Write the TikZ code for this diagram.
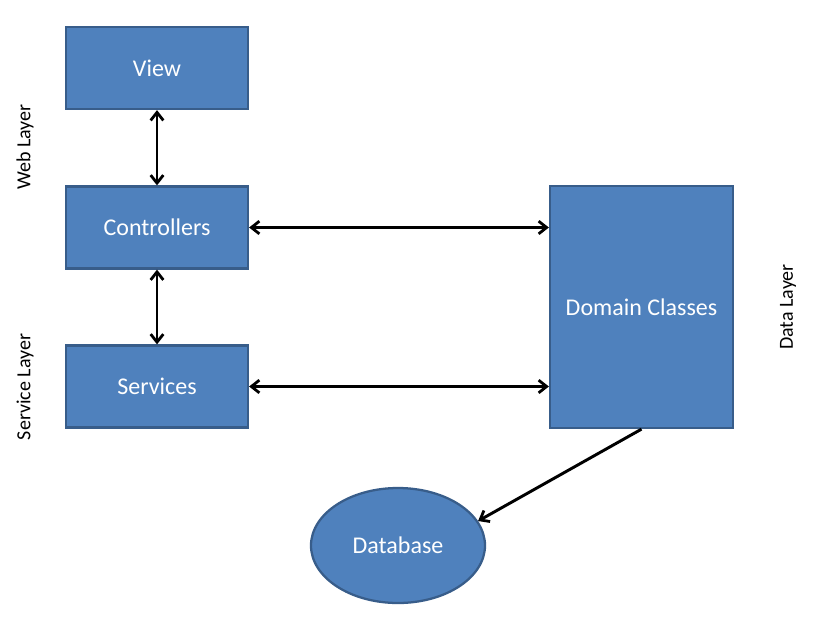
\documentclass[tikz,border=0pt]{standalone}
\usepackage{fontspec}
\setmainfont{Carlito}
\usetikzlibrary{arrows.meta,shapes.geometric}
\definecolor{boxfill}{HTML}{4F81BD}
\definecolor{boxline}{HTML}{385D8A}
\tikzset{
  layerbox/.style={draw=boxline, fill=boxfill, line width=1.7pt, inner sep=0pt,
    text=white, font=\fontsize{18}{20}\selectfont},
  tipA/.tip={Straight Barb[length=6pt,width=9.5pt,line width=2.1pt]},
  link/.style={line width=2.2pt, draw=black, tipA-tipA},
  onelink/.style={line width=2.2pt, draw=black, -tipA},
  layerlabel/.style={rotate=90, font=\fontsize{15}{17}\selectfont, text=black, inner sep=0pt}
}
\begin{document}
\begin{tikzpicture}[x=0.75pt,y=-0.75pt]
\useasboundingbox[fill=white] (0,0) rectangle (816,626);
\node[layerbox, minimum width=136.5pt, minimum height=61.5pt] (view) at (157,68) {View};
\node[layerbox, minimum width=136.5pt, minimum height=61.5pt] (ctrl) at (157,227.5) {Controllers};
\node[layerbox, minimum width=136.5pt, minimum height=61.5pt] (serv) at (157,386.5) {Services};
\node[layerbox, minimum width=137.25pt, minimum height=181.5pt] (dom) at (641.5,307) {Domain Classes};
\node[layerbox, ellipse, minimum width=130.5pt, minimum height=86.25pt] (db) at (398,545.5) {Database};
\node[layerlabel] (web) at (25,147) {Web Layer};
\node[layerlabel] (svl) at (25,387) {Service Layer};
\node[layerlabel] (dal) at (788,307) {Data Layer};
\draw[link] (view.south) -- (ctrl.north);
\draw[link] (ctrl.south) -- (serv.north);
\draw[link] (ctrl.east) -- (ctrl.east -| dom.west);
\draw[link] (serv.east) -- (serv.east -| dom.west);
\draw[onelink] (dom.south) -- (db.17);
\end{tikzpicture}
\end{document}
